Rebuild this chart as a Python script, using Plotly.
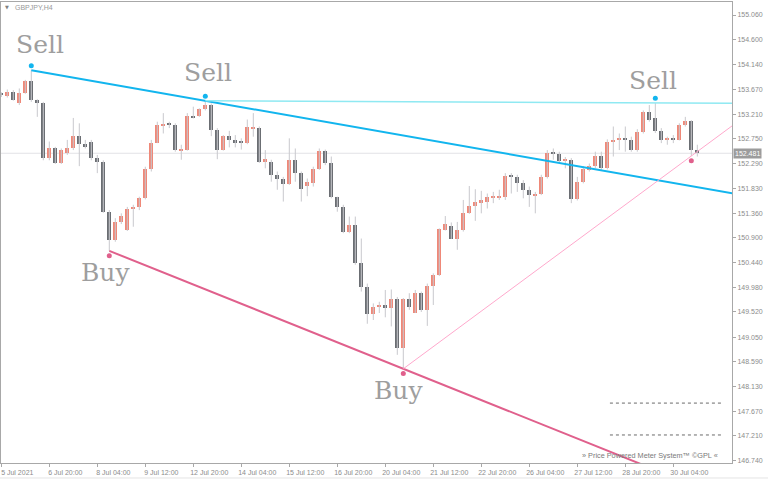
import plotly.graph_objects as go
import pandas as pd

symbol_label = "GBPJPY,H4"

opens = [
    153.59, 153.55, 153.63, 153.41, 153.60, 153.82, 153.47, 153.42, 152.39, 152.57,
    152.30, 152.48, 152.57, 152.80, 152.65, 152.70, 152.40, 152.32, 151.39, 150.87,
    151.19, 151.05, 151.44, 151.48, 151.64, 152.18, 152.68, 152.99, 153.03, 153.01,
    152.54, 152.54, 153.18, 153.18, 153.30, 153.38, 152.92, 152.54, 152.80, 152.72,
    152.70, 152.67, 152.95, 152.95, 152.32, 152.32, 152.08, 152.00, 151.91, 152.36,
    152.11, 151.87, 151.93, 152.18, 152.53, 152.29, 151.66, 151.48, 151.02, 151.15,
    150.43, 149.98, 149.48, 149.63, 149.65, 149.60, 149.76, 148.84, 149.76, 149.51,
    149.88, 149.56, 150.00, 150.21, 151.05, 151.12, 150.89, 151.04, 151.36, 151.50,
    151.56, 151.57, 151.65, 151.66, 151.66, 152.06, 152.04, 151.93, 151.80, 151.70,
    151.72, 152.03, 152.51, 152.47, 152.34, 152.36, 151.63, 151.95, 152.17, 152.24,
    152.43, 152.20, 152.70, 152.73, 152.75, 152.73, 152.54, 152.88, 153.25, 153.13,
    152.90, 152.72, 152.76, 152.73, 153.00, 153.09, 152.55,
]
highs = [
    153.62, 153.67, 153.66, 153.69, 153.85, 154.03, 153.49, 153.44, 152.70, 152.60,
    152.57, 152.73, 153.14, 153.04, 152.73, 152.73, 152.45, 152.35, 151.42, 151.27,
    151.36, 151.48, 151.52, 151.67, 152.23, 152.73, 153.07, 153.23, 153.07, 153.04,
    152.64, 153.23, 153.35, 153.32, 153.46, 153.41, 152.95, 152.82, 152.90, 152.82,
    152.76, 153.11, 153.23, 152.98, 152.54, 152.36, 152.14, 152.04, 152.76, 152.57,
    152.14, 152.01, 152.23, 152.57, 152.55, 152.42, 151.67, 151.52, 151.30, 151.30,
    150.89, 150.05, 149.68, 149.71, 149.93, 149.94, 149.80, 149.78, 149.87, 149.93,
    149.90, 150.05, 150.24, 151.08, 151.31, 151.19, 151.20, 151.61, 151.87, 151.81,
    151.78, 151.73, 151.76, 151.80, 152.11, 152.11, 152.08, 151.98, 151.86, 151.76,
    152.08, 152.54, 152.57, 152.51, 152.41, 152.39, 152.04, 152.24, 152.29, 152.51,
    152.51, 152.74, 152.98, 152.85, 152.98, 152.79, 152.93, 153.28, 153.38, 153.42,
    152.95, 152.79, 152.82, 153.04, 153.16, 153.10, 152.64,
]
lows = [
    153.53, 153.52, 153.46, 153.38, 153.59, 153.44, 153.16, 152.35, 152.35, 152.28,
    152.28, 152.45, 152.54, 152.24, 152.57, 152.35, 152.11, 151.37, 150.66, 150.83,
    151.16, 151.03, 151.11, 151.42, 151.62, 152.14, 152.67, 152.85, 152.95, 152.51,
    152.36, 152.53, 153.13, 153.16, 153.28, 152.80, 152.37, 152.53, 152.59, 152.59,
    152.55, 152.65, 152.79, 152.30, 152.20, 151.95, 151.80, 151.58, 151.89, 151.95,
    151.58, 151.68, 151.86, 152.17, 152.26, 151.64, 151.39, 150.99, 150.99, 150.40,
    149.90, 149.30, 149.37, 149.50, 149.42, 149.25, 148.72, 148.46, 149.56, 149.50,
    149.52, 149.26, 149.65, 150.19, 151.04, 150.88, 150.68, 151.02, 151.35, 151.22,
    151.36, 151.45, 151.55, 151.61, 151.61, 151.73, 151.76, 151.64, 151.48, 151.36,
    151.70, 152.01, 152.36, 152.29, 152.20, 151.55, 151.60, 151.92, 152.14, 152.20,
    152.17, 152.18, 152.42, 152.54, 152.51, 152.51, 152.51, 152.85, 153.07, 152.86,
    152.67, 152.64, 152.67, 152.72, 152.98, 152.43, 152.42,
]
closes = [
    153.58, 153.63, 153.47, 153.60, 153.82, 153.47, 153.42, 152.39, 152.57, 152.30,
    152.54, 152.57, 152.80, 152.65, 152.60, 152.39, 152.32, 151.39, 150.87, 151.19,
    151.31, 151.45, 151.48, 151.64, 152.18, 152.68, 153.01, 153.03, 153.01, 152.54,
    152.55, 153.18, 153.15, 153.30, 153.38, 152.92, 152.54, 152.80, 152.72, 152.69,
    152.68, 152.98, 152.98, 152.32, 152.37, 152.08, 152.00, 151.91, 152.36, 152.11,
    151.81, 151.95, 152.18, 152.53, 152.29, 151.66, 151.48, 151.02, 151.15, 150.43,
    149.98, 149.48, 149.62, 149.65, 149.60, 149.76, 148.85, 149.76, 149.62, 149.88,
    149.56, 150.00, 150.21, 151.06, 151.17, 150.89, 151.05, 151.36, 151.50, 151.57,
    151.60, 151.66, 151.67, 151.68, 152.06, 152.04, 151.92, 151.80, 151.70, 151.72,
    152.03, 152.49, 152.47, 152.34, 152.36, 151.63, 151.95, 152.18, 152.24, 152.43,
    152.20, 152.70, 152.73, 152.76, 152.73, 152.54, 152.88, 153.25, 153.11, 152.90,
    152.72, 152.76, 152.73, 153.01, 153.09, 152.54, 152.481,
]

# H4 bar times (weekdays only)
bar_times = [t for t in pd.date_range("2021-07-05 12:00", "2021-07-30 20:00", freq="4h") if t.weekday() < 5]

tick_times = ["2021-07-05 12:00", "2021-07-06 20:00", "2021-07-08 04:00", "2021-07-09 12:00",
              "2021-07-12 20:00", "2021-07-14 04:00", "2021-07-15 12:00", "2021-07-16 20:00",
              "2021-07-20 04:00", "2021-07-21 12:00", "2021-07-22 20:00", "2021-07-26 04:00",
              "2021-07-27 12:00", "2021-07-28 20:00", "2021-07-30 04:00"]
tick_labels = ["5 Jul 2021", "6 Jul 20:00", "8 Jul 04:00", "9 Jul 12:00", "12 Jul 20:00",
               "14 Jul 04:00", "15 Jul 12:00", "16 Jul 20:00", "20 Jul 04:00", "21 Jul 12:00",
               "22 Jul 20:00", "26 Jul 04:00", "27 Jul 12:00", "28 Jul 20:00", "30 Jul 04:00"]

price_ticks = [155.060, 154.600, 154.140, 153.670, 153.210, 152.750, 152.290, 151.830, 151.360,
               150.900, 150.440, 149.980, 149.520, 149.050, 148.590, 148.130, 147.670, 147.210, 146.740]

sell_bars = [5, 34, 109]
sell_texts = ["Sell", "Sell", "Sell"]
buy_bars = [18, 67, 115]
buy_texts = ["Buy", "Buy", ""]

meter_levels = [147.82, 147.225]
watermark = "» Price Powered Meter System™ ©GPL «"

# ---------------------------------------------------------------
BULL = "#EF8878"
BEAR = "#6B6E73"
WICK = "#C9C9CD"
BLUE = "#12B5EE"
CYAN = "#8FE9F2"
PINK = "#E0608C"
PINK_L = "#FFA8CC"
AXIS = "#A8A8A8"
TXT = "#8C8C8C"

n = len(closes)
xs = list(range(n))
tick_idx = {t: i for i, t in enumerate(bar_times)}
tickvals = [tick_idx[pd.Timestamp(t)] for t in tick_times]
last = closes[-1]

fig = go.Figure()

# current price line
fig.add_shape(type="line", xref="paper", x0=0, x1=1, y0=last, y1=last,
              line=dict(color="#E2E2E6", width=1), layer="below")

# wicks
wx, wy = [], []
for i in xs:
    wx += [i, i, None]
    wy += [lows[i], highs[i], None]
fig.add_trace(go.Scatter(x=wx, y=wy, mode="lines", line=dict(color=WICK, width=1),
                         hoverinfo="skip", showlegend=False))

# bodies
bases = [min(o, c) for o, c in zip(opens, closes)]
hts = [max(abs(c - o), 0.018) for o, c in zip(opens, closes)]
cols = [BULL if c >= o else BEAR for o, c in zip(opens, closes)]
fig.add_trace(go.Bar(x=xs, y=hts, base=bases, width=0.68, marker=dict(color=cols, line=dict(width=0)),
                     showlegend=False, hoverinfo="skip"))


def ext_line(i1, p1, i2, p2, x_end=123):
    s = (p2 - p1) / (i2 - i1)
    return [i1, x_end], [p1, p1 + s * (x_end - i1)]


lines = [
    (sell_bars[0], highs[sell_bars[0]], sell_bars[1], highs[sell_bars[1]], BLUE, 2),
    (sell_bars[1], highs[sell_bars[1]], sell_bars[2], highs[sell_bars[2]], CYAN, 1.5),
    (buy_bars[0], lows[buy_bars[0]], buy_bars[1], lows[buy_bars[1]], PINK, 2),
    (buy_bars[1], lows[buy_bars[1]], buy_bars[2], lows[buy_bars[2]], PINK_L, 1),
]
for i1, p1, i2, p2, c, w in lines:
    lx, ly = ext_line(i1, p1, i2, p2)
    fig.add_trace(go.Scatter(x=lx, y=ly, mode="lines", line=dict(color=c, width=w),
                             hoverinfo="skip", showlegend=False))

# signal dots
fig.add_trace(go.Scatter(x=sell_bars, y=[highs[i] + 0.085 for i in sell_bars], mode="markers",
                         marker=dict(color=BLUE, size=5), showlegend=False, hoverinfo="skip"))
fig.add_trace(go.Scatter(x=buy_bars, y=[lows[i] - 0.09 for i in buy_bars], mode="markers",
                         marker=dict(color=PINK, size=5), showlegend=False, hoverinfo="skip"))

# signal labels
sig_font = dict(family="DejaVu Serif", size=25, color="#9E9E9E")
sell_shift = [(9, 26), (3, 28), (-2, 22)]
for b, t, (dx, dy) in zip(sell_bars, sell_texts, sell_shift):
    if t:
        fig.add_annotation(x=b, y=highs[b], text=t, showarrow=False, xshift=dx, yshift=dy,
                           font=sig_font, xanchor="center", yanchor="middle")
buy_shift = [(-4, -22), (-5, -22), (0, 0)]
for b, t, (dx, dy) in zip(buy_bars, buy_texts, buy_shift):
    if t:
        fig.add_annotation(x=b, y=lows[b], text=t, showarrow=False, xshift=dx, yshift=dy,
                           font=sig_font, xanchor="center", yanchor="middle")

# meter dotted levels
for lv in meter_levels:
    fig.add_shape(type="line", xref="paper", x0=0.833, x1=0.985, y0=lv, y1=lv,
                  line=dict(color="#6A6A6A", width=1, dash="dot"))

fig.add_annotation(xref="paper", yref="paper", x=0.984, y=0.017, text=watermark, showarrow=False,
                   xanchor="right", yanchor="middle", font=dict(family="Liberation Sans", size=7.3, color="#7A7A7A"))

# bottom status edge
fig.add_shape(type="line", xref="paper", yref="paper", x0=-0.01, x1=1.06, y0=-0.0325, y1=-0.0325,
              line=dict(color="#E4E4E4", width=1))

# symbol label
fig.add_annotation(xref="paper", yref="paper", x=0.003, y=0.989, text="▼", showarrow=False,
                   xanchor="left", yanchor="middle", font=dict(family="DejaVu Sans", size=5, color="#808080"))
fig.add_annotation(xref="paper", yref="paper", x=0.016, y=0.989, text=symbol_label, showarrow=False,
                   xanchor="left", yanchor="middle", font=dict(family="Liberation Sans", size=7, color="#999999"))

# current price tag
fig.add_annotation(xref="paper", x=1, y=last, text=f"{last:.3f}", showarrow=False, xanchor="left",
                   yanchor="middle", xshift=1, bgcolor="#9C9C9C", borderpad=1,
                   font=dict(family="Liberation Sans", size=7, color="#FFFFFF"))

fig.update_layout(
    width=768, height=480,
    margin=dict(l=1, r=36, t=2, b=17),
    paper_bgcolor="white", plot_bgcolor="white",
    showlegend=False, bargap=0,
    font=dict(family="Liberation Sans", size=7, color=TXT),
    xaxis=dict(range=[-0.05, 121.78], tickmode="array", tickvals=tickvals, ticktext=tick_labels,
               ticks="outside", ticklen=3, tickcolor=AXIS, showline=True, linecolor=AXIS,
               linewidth=1, mirror=True, showgrid=False, zeroline=False, ticklabelshift=16,
               tickfont=dict(size=7, color=TXT)),
    yaxis=dict(range=[146.702, 155.303], side="right", tickmode="array", tickvals=price_ticks,
               ticktext=[f"{v:.3f}" for v in price_ticks], ticks="outside", ticklen=3,
               tickcolor=AXIS, showline=True, linecolor=AXIS, linewidth=1, mirror=True,
               showgrid=False, zeroline=False, tickfont=dict(size=7, color=TXT)),
)

fig.write_html("out.html", config={"displayModeBar": False},
               post_script="document.body.style.margin='0px';document.body.style.overflow='hidden';")
